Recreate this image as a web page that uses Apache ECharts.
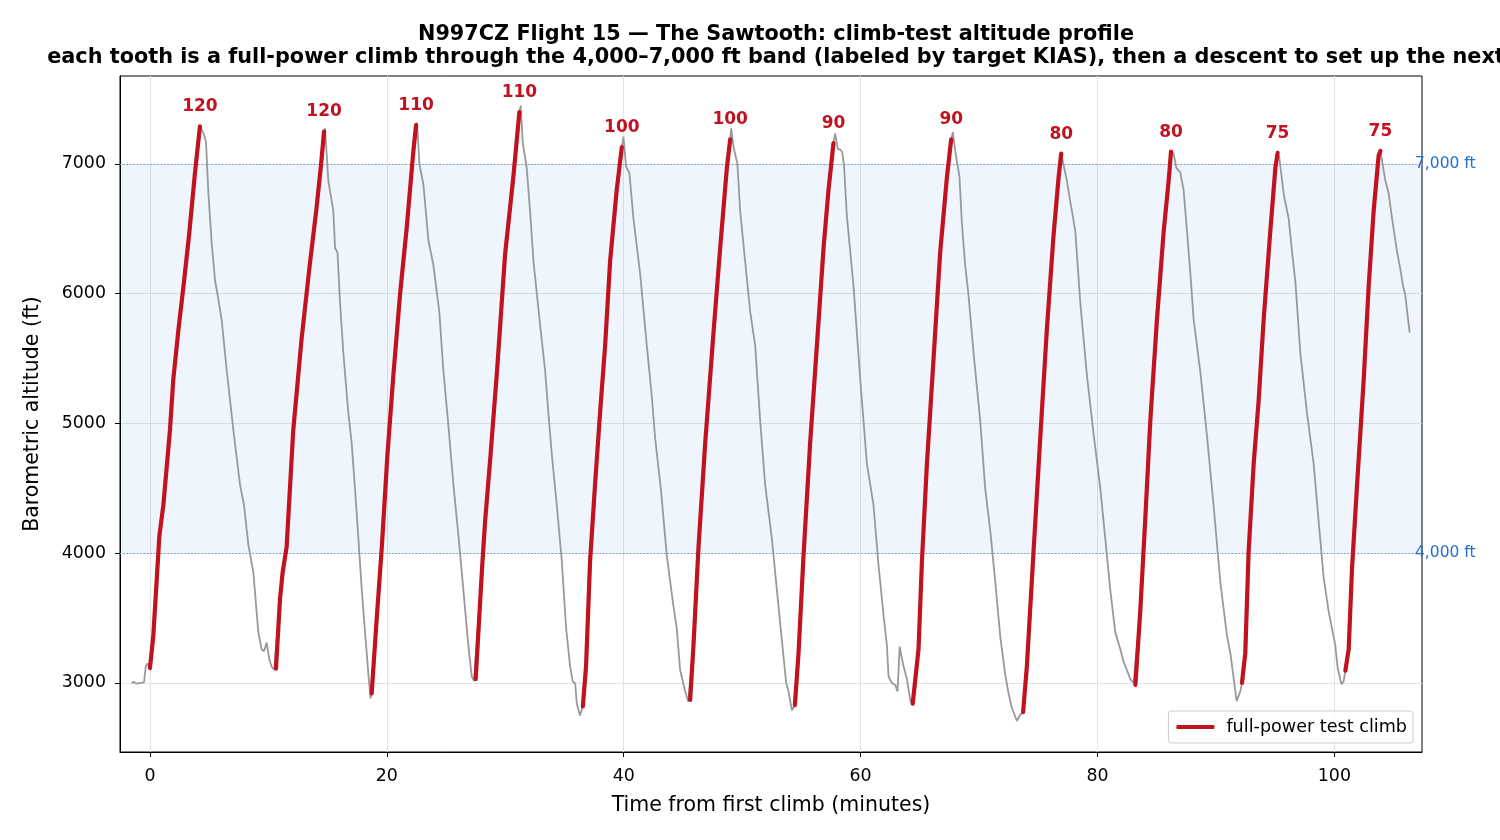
<!DOCTYPE html>
<html><head><meta charset="utf-8">
<script src="https://cdn.jsdelivr.net/npm/echarts@6/dist/echarts.min.js"></script>
<style>html,body{margin:0;padding:0;background:#fff}#c{width:1500px;height:840px}</style>
</head><body><div id="c"></div>
<script>
// Altitude profile (minutes from first climb, feet)
const profileTime = [
  -1.55,-1.35,-1.15,-1.0,-0.8,-0.65,-0.5,-0.35,-0.2,-0.05,
  0.0,0.28,0.56,0.79,1.0,1.13,1.69,1.97,2.4,2.82,3.3,3.8,4.22,
  4.36,4.55,4.73,4.93,5.21,5.5,5.77,6.05,6.48,7.04,7.6,7.94,8.3,8.73,9.15,9.43,9.63,9.85,10.08,10.28,10.5,
  10.64,10.98,11.2,11.54,12.1,12.8,13.5,14.05,14.45,14.7,
  14.78,15.06,15.48,15.63,15.83,16.05,16.33,16.75,17.03,17.31,17.6,17.88,18.16,18.44,18.62,
  18.72,19.14,19.57,20.05,20.55,21.11,21.68,22.24,22.47,
  22.55,22.75,23.09,23.51,23.93,24.43,24.77,25.2,25.62,26.04,26.46,26.88,27.17,27.36,
  27.5,28.05,28.3,28.75,29.3,29.98,30.68,31.19,
  31.3,31.48,31.81,32.09,32.38,32.94,33.36,33.64,33.93,34.35,34.77,35.14,35.47,35.7,35.9,36.04,36.3,
  36.55,36.82,37.16,37.58,38.0,38.43,38.85,39.41,39.84,
  39.98,40.2,40.48,40.82,41.39,41.95,42.37,42.65,43.15,43.64,44.2,44.48,44.76,45.19,45.45,
  45.61,45.89,46.31,46.88,47.58,48.14,48.71,48.99,
  49.07,49.27,49.6,49.83,50.25,50.68,51.1,51.52,51.94,52.51,52.93,53.35,53.72,53.91,54.2,
  54.45,54.76,55.18,55.74,56.31,56.87,57.29,57.71,
  57.85,58.08,58.3,58.45,58.6,58.84,59.4,59.97,60.53,61.09,61.51,61.94,62.22,62.36,62.64,62.92,63.12,63.3,63.62,63.9,64.19,64.36,
  64.4,64.89,65.18,65.6,66.16,66.72,67.29,67.65,
  67.79,67.99,68.35,68.55,68.83,69.11,69.54,70.1,70.52,70.95,71.37,71.79,72.21,72.49,72.78,73.2,73.48,
  73.72,74.04,74.6,75.17,75.73,76.29,76.72,76.94,
  77.08,77.42,77.7,77.84,78.13,78.55,79.11,79.67,80.24,80.66,81.08,81.5,81.93,82.21,82.49,82.77,83.05,
  83.2,83.61,84.04,84.46,85.02,85.59,86.01,86.21,
  86.43,86.66,86.99,87.27,87.56,87.84,88.12,88.68,89.25,89.8,90.37,90.94,91.22,91.5,91.75,92.06,
  92.2,92.48,92.76,93.19,93.61,94.03,94.59,95.02,95.21,
  95.35,95.72,96.14,96.43,96.71,97.13,97.69,98.25,98.68,99.1,99.52,100.08,100.28,100.6,100.78,
  100.93,101.21,101.49,101.92,102.48,102.9,103.32,103.74,103.89,
  104.05,104.31,104.59,104.87,105.3,105.57,105.8,105.99,106.19,106.36
];
const profileAlt = [
  3000,3008,2995,3002,3000,2988,3005,3130,3150,3130,
  3115,3360,3780,4130,4280,4370,4950,5340,5720,6050,6450,6930,7290,
  7300,7230,7170,6780,6390,6100,5960,5800,5410,4950,4530,4370,4070,3850,3390,3260,3245,3310,3180,3125,3100,
  3110,3650,3850,4050,4950,5650,6230,6650,7000,7250,
  7275,6870,6640,6350,6320,5930,5540,5080,4850,4500,4110,3720,3390,3070,2880,
  2920,3490,4040,4760,5370,5990,6510,7100,7300,
  7320,7000,6840,6410,6220,5860,5410,4980,4530,4140,3720,3290,3050,3015,
  3030,3900,4250,4750,5400,6300,6900,7400,
  7450,7160,6970,6640,6250,5760,5410,5080,4760,4370,3940,3420,3130,3010,3000,2840,2750,
  2820,3130,3940,4530,5080,5600,6250,6800,7130,
  7210,6980,6930,6580,6150,5600,5210,4890,4480,3980,3590,3420,3100,2935,2855,
  2870,3290,4040,4850,5700,6350,6970,7190,
  7275,7130,7000,6640,6250,5860,5600,5020,4530,4110,3720,3330,3000,2935,2790,
  2830,3230,3980,4850,5600,6350,6800,7160,
  7235,7115,7110,7090,6990,6600,6060,5340,4690,4370,3910,3520,3290,3050,3000,2985,2935,3280,3130,3035,2870,2830,
  2840,3260,3940,4690,5500,6320,6900,7190,
  7245,7100,6900,6545,6220,5990,5540,5020,4500,4170,3780,3360,3065,2920,2805,2707,2755,
  2775,3130,4010,4890,5730,6450,6900,7080,
  7065,6870,6710,6640,6480,5930,5370,4920,4500,4110,3720,3390,3260,3160,3100,3030,3000,
  2985,3550,4270,5020,5800,6480,6870,7095,
  7080,6970,6935,6800,6480,6160,5800,5400,4900,4370,3780,3360,3230,3035,2860,2935,
  3000,3230,4010,4690,5180,5800,6480,6970,7085,
  7050,6770,6580,6320,6090,5540,5080,4690,4240,3810,3550,3290,3115,2990,3010,
  3095,3260,3880,4530,5340,6060,6640,7065,7100,
  7090,6870,6770,6580,6320,6190,6060,5990,5830,5700
];
// Full-power test climbs: start/end minute and target KIAS
const climbStart = [0.0,10.64,18.72,27.5,36.55,45.61,54.45,64.4,73.72,83.2,92.2,100.93];
const climbEnd   = [4.22,14.7,22.47,31.19,39.84,48.99,57.71,67.65,76.94,86.21,95.21,103.89];
const climbKias  = [120,120,110,110,100,100,90,90,80,80,75,75];
// Axes
const xTicks = [0,20,40,60,80,100];
const yTicks = [3000,4000,5000,6000,7000];
const bandEdges = [4000,7000];
const bandLabels = ['4,000 ft','7,000 ft'];

const FONT = 'DejaVu Sans';
const RED = '#c1121f';
const LEGEND_NAME = 'full-power test climb';

const grayData = profileTime.map((t,i)=>[t, profileAlt[i]]);
const climbPts = climbStart.map((s,k)=>grayData.filter(p=>p[0]>=s-1e-9 && p[0]<=climbEnd[k]+1e-9));
const climbSeries = climbPts.map(pts=>({
  type:'line', name:LEGEND_NAME, data:pts, showSymbol:false, symbol:'none',
  lineStyle:{color:RED,width:4.2,cap:'round',join:'round'}, itemStyle:{color:RED}, z:5, silent:true
}));
const peakData = climbPts.map((pts,k)=>{
  let best = pts[0];
  pts.forEach(p=>{ if(p[1]>best[1]) best=p; });
  return [best[0], best[1], climbKias[k]];
});

const chart = echarts.init(document.getElementById('c'), null, {renderer:'canvas'});
chart.setOption({
  animation:false,
  backgroundColor:'#ffffff',
  title:{
    text:'N997CZ Flight 15 — The Sawtooth: climb-test altitude profile\neach tooth is a full-power climb through the 4,000–7,000 ft band (labeled by target KIAS), then a descent to set up the next',
    left:771, top:18, textAlign:'center',
    textStyle:{fontSize:20.8, fontWeight:'bold', fontFamily:FONT, color:'#000', lineHeight:23}
  },
  legend:{
    data:[{name:LEGEND_NAME, icon:'roundRect'}], right:87, bottom:97, itemWidth:38, itemHeight:4,
    textStyle:{fontSize:17.6, fontFamily:FONT, color:'#000', padding:[0,0,0,7]},
    borderColor:'#cccccc', borderWidth:1, borderRadius:3, padding:[7,6,7,8],
    backgroundColor:'rgba(255,255,255,0.8)'
  },
  grid:{left:120, right:78, top:76, bottom:88, show:true, borderColor:'#000', borderWidth:1, backgroundColor:'transparent'},
  xAxis:{
    type:'value', min:-2.53, max:107.4,
    name:'Time from first climb (minutes)', nameLocation:'middle', nameGap:43,
    nameTextStyle:{fontSize:20.5, fontFamily:FONT, color:'#000'},
    axisLine:{show:true, onZero:false, lineStyle:{color:'#000', width:1}},
    axisTick:{show:true, customValues:xTicks, length:5, lineStyle:{color:'#000'}},
    axisLabel:{customValues:xTicks, fontSize:17.4, fontFamily:FONT, color:'#000', margin:16, formatter:v=>String(v)},
    splitLine:{show:true, lineStyle:{color:'#e3e3e3', width:1}}
  },
  yAxis:{
    type:'value', min:2468, max:7678,
    name:'Barometric altitude (ft)', nameLocation:'middle', nameGap:77,
    nameTextStyle:{fontSize:20.5, fontFamily:FONT, color:'#000'},
    axisLine:{show:true, onZero:false, lineStyle:{color:'#000', width:1}},
    axisTick:{show:true, customValues:yTicks, length:5, lineStyle:{color:'#000'}},
    axisLabel:{customValues:yTicks, fontSize:17.4, fontFamily:FONT, color:'#000', margin:14, formatter:v=>String(v)},
    splitLine:{show:true, lineStyle:{color:'#e3e3e3', width:1}}
  },
  series:[
    {
      type:'line', name:'profile', data:grayData, showSymbol:false, symbol:'none', z:3, silent:true,
      lineStyle:{color:'#999999', width:1.8},
      markArea:{silent:true, itemStyle:{color:'rgba(30,110,210,0.07)'},
        data:[[{yAxis:bandEdges[0]},{yAxis:bandEdges[1]}]]},
      markLine:{silent:true, symbol:'none',
        lineStyle:{type:[1.2,2.2], color:'#5a8fd6', width:1.1},
        label:{position:'end', distance:-7, color:'#1f6fd4', fontSize:15.5, fontFamily:FONT},
        data:bandEdges.map((v,i)=>({yAxis:v, label:{formatter:bandLabels[i]}}))}
    },
    ...climbSeries,
    {
      type:'scatter', name:'kias', data:peakData, symbolSize:0, z:6, silent:true,
      itemStyle:{opacity:1},
      label:{show:true, position:'top', distance:11, formatter:p=>String(p.value[2]),
        color:RED, fontWeight:'bold', fontSize:17, fontFamily:FONT, opacity:1}
    }
  ]
});
</script></body></html>
